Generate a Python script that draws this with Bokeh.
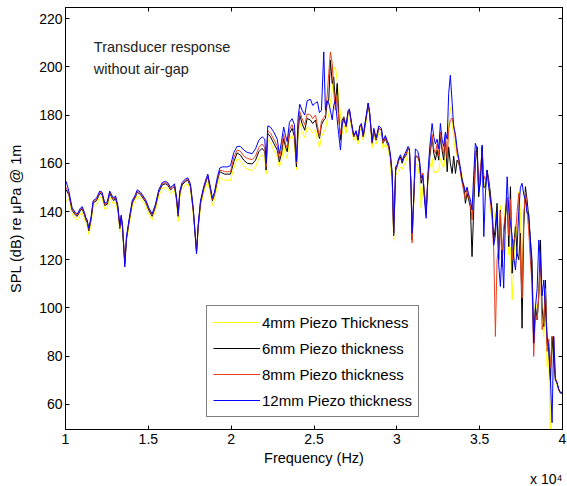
from bokeh.plotting import figure
from bokeh.models import Range1d, LinearAxis, Label, Legend, LegendItem, FixedTicker, Title
from bokeh.embed import file_html
from bokeh.resources import INLINE

# Frequency in units of 10^4 Hz
freq = [
    1.004, 1.020, 1.040, 1.060, 1.071, 1.091, 1.101, 1.115, 1.123, 1.131,
    1.141, 1.155, 1.167, 1.187, 1.207, 1.221, 1.237, 1.252, 1.267, 1.282,
    1.291, 1.302, 1.316, 1.328, 1.336, 1.344, 1.358, 1.368, 1.382, 1.403,
    1.422, 1.433, 1.453, 1.483, 1.503, 1.523, 1.543, 1.563, 1.584, 1.603,
    1.617, 1.634, 1.644, 1.658, 1.670, 1.680, 1.690, 1.704, 1.724, 1.738,
    1.754, 1.771, 1.791, 1.801, 1.815, 1.835, 1.851, 1.859, 1.875, 1.887,
    1.899, 1.916, 1.931, 1.946, 1.960, 1.976, 1.996,
    2.016, 2.036, 2.056, 2.076, 2.097, 2.127, 2.147, 2.167, 2.187, 2.203,
    2.211, 2.221, 2.237, 2.257, 2.278, 2.291, 2.304, 2.317, 2.328, 2.338,
    2.352, 2.368, 2.382, 2.394, 2.404, 2.414, 2.428, 2.444, 2.459, 2.479,
    2.492, 2.509, 2.521, 2.533, 2.545, 2.559, 2.569, 2.579, 2.589, 2.599,
    2.610, 2.619, 2.629, 2.640, 2.649, 2.660, 2.670, 2.680, 2.694, 2.706,
    2.714, 2.726, 2.740, 2.754, 2.766, 2.776, 2.786, 2.797, 2.810, 2.827,
    2.836, 2.851, 2.861, 2.875, 2.891, 2.907, 2.917, 2.931, 2.941, 2.951,
    2.961, 2.972, 2.981, 2.993,
    3.002, 3.011, 3.022, 3.032, 3.042, 3.056, 3.068, 3.076, 3.086, 3.092,
    3.102, 3.112, 3.126, 3.136, 3.147, 3.156, 3.167, 3.177, 3.187, 3.199,
    3.213, 3.223, 3.233, 3.243, 3.253, 3.263, 3.273, 3.283, 3.293, 3.304,
    3.313, 3.323, 3.334, 3.343, 3.354, 3.364, 3.374, 3.384, 3.394, 3.404,
    3.414, 3.424, 3.434, 3.444, 3.454, 3.464, 3.474, 3.485, 3.494, 3.505,
    3.515, 3.525, 3.535, 3.545, 3.555, 3.565, 3.575, 3.585, 3.595, 3.605,
    3.615, 3.625, 3.635, 3.645, 3.655, 3.666, 3.676, 3.686, 3.696, 3.706,
    3.716, 3.726, 3.736, 3.746, 3.756, 3.766, 3.776, 3.786, 3.796, 3.806,
    3.816, 3.826, 3.837, 3.847, 3.857, 3.867, 3.877, 3.887, 3.897, 3.907,
    3.917, 3.927, 3.937, 3.947, 3.957, 3.967, 3.977, 3.987, 3.997,
]

spl_4mm = [
    144, 145.5, 139, 137, 136.5, 139, 139.5, 137, 135, 134,
    130.5, 135.5, 142, 143, 146, 145.5, 141, 141.5, 146, 144,
    143, 144, 140, 131.5, 136, 132, 118, 127, 133.5, 142,
    144.5, 146.5, 145.5, 142.5, 139, 136.5, 140.5, 146.5, 149.5, 150,
    149.5, 147.5, 148, 149, 143.5, 136, 146, 149.5, 151, 151.5,
    149, 139, 123.5, 132, 142, 148, 151, 152.5, 147, 142.5,
    145, 150.5, 154, 153.5, 153, 153, 153,
    158, 162, 161, 159, 157.5, 157, 158.5, 162, 163.5, 162,
    155.5, 170, 168.5, 165.5, 162.5, 158.5, 161, 167.5, 163.5, 162,
    170, 171.5, 168, 157.2, 171, 177, 173, 170.5, 175, 174,
    172.5, 174, 169.5, 166.5, 171, 173, 174, 178, 180, 185,
    190, 198.6, 200, 194.5, 186, 180.7, 172, 176, 172.5, 179.5,
    180, 174.5, 169.5, 171.5, 168, 173.5, 174.5, 169.5, 175, 183.5,
    179.5, 166.5, 172, 168, 172.5, 172, 166, 168, 166.5, 164.5,
    160, 150, 128, 155,
    156, 157, 158.5, 157.5, 159, 161, 164.5, 164, 150, 129,
    143, 160, 159, 155, 141.5, 150, 148, 140, 152, 158,
    162, 156, 157, 156, 157, 162, 160, 158, 164, 163,
    176, 183.4, 178, 170, 165, 163, 162, 158, 155, 151,
    147, 145, 146, 141, 137, 150, 166, 164, 150, 156,
    167.6, 150, 152, 155, 150, 140, 138, 137, 140, 136,
    128, 142.5, 120, 128, 143.5, 140, 122, 125, 103.4, 118,
    135, 130, 148.2, 140, 110, 140, 145, 140, 136, 130,
    110, 92, 102, 100, 104, 118, 95, 88, 100, 75.7,
    80, 45, 85, 80, 70, 68, 66, 65, 64.5,
]

spl_6mm = [
    149, 147, 140.5, 138.5, 138, 140.5, 141, 138.5, 136.5, 135.5,
    132, 137, 143.5, 144.5, 147.5, 147, 142.5, 143, 147.5, 145.5,
    144.5, 145.5, 141.5, 133, 137.5, 133.5, 118.5, 128.5, 135, 143.5,
    146, 148, 147, 144, 140.5, 138, 142, 148, 151, 151.5,
    151, 149, 149.5, 150.5, 145, 138, 147.5, 151, 152.5, 153,
    150.5, 140.5, 123.5, 133.5, 143.5, 149.5, 153, 154.5, 149, 144.5,
    147, 152.5, 156.5, 156, 155.5, 155.5, 155.5,
    160.6, 164.3, 163.4, 161.3, 160, 159.7, 161.3, 164.8, 166.2, 164.8,
    157.2, 172.4, 171, 168.3, 165.5, 160.6, 164.1, 170.3, 166.8, 164.8,
    172.4, 174.5, 171, 158.5, 173.7, 180, 176.5, 173.7, 178.6, 177.9,
    176.5, 177.9, 173.7, 170.3, 175.9, 177.9, 178.6, 184.8, 186.2, 202.7,
    193.1, 195.8, 184.8, 193.1, 180.7, 169.6, 177.9, 179.3, 175.1, 181.3,
    182, 176.5, 171, 173.1, 169.6, 175.1, 175.9, 171, 176.5, 184.8,
    180.7, 168.3, 173.7, 169.6, 174.5, 173.7, 168.3, 170.3, 168.3, 166.8,
    162.7, 154.4, 130, 157.2,
    158.6, 161.3, 162.7, 160, 162, 163.4, 166.2, 165.5, 150.3, 128.2,
    144.8, 162.7, 162.7, 160.6, 151.7, 155.8, 147.5, 139.3, 153, 162.7,
    171, 164.1, 161.3, 165.5, 161.3, 171, 165.5, 161.3, 171, 156.5,
    166.8, 160, 155.8, 163, 155.8, 161.3, 160, 157.2, 153, 150.3,
    143.4, 147.5, 144.8, 142, 121.3, 140.6, 160, 166.8, 146.1, 154.4,
    166.8, 150, 150.3, 157.2, 153, 147.5, 139.3, 128.2, 133.7, 143.4,
    120, 140.6, 117.1, 131, 137.9, 144.8, 125.4, 150.3, 114.4, 125.4,
    133.7, 122.7, 120, 131, 91.6, 133, 150.3, 144.8, 137.9, 128.2,
    120, 85.4, 100.6, 95, 106, 128.2, 100, 92.3, 111.6, 85.4,
    82.6, 70, 88.2, 78.5, 70.3, 68.9, 66.1, 64.7, 64.7,
]

spl_8mm = [
    150, 147.5, 141, 139, 138.5, 141, 141.5, 139, 137, 136,
    132.5, 137.5, 144, 145, 148, 147.5, 143, 143.5, 148, 146,
    145, 146, 142, 133.5, 138, 134, 118.5, 129, 135.5, 144,
    146.5, 148.5, 147.5, 144.5, 141, 138.5, 142.5, 148.5, 151.5, 152,
    151.5, 149.5, 150, 151, 145.5, 138.5, 148, 151.5, 153, 153.5,
    151, 141, 123, 134, 144, 150, 153.5, 155, 149.5, 145,
    147.5, 153, 157, 157, 156.5, 156.5, 156.5,
    162.5, 165.5, 165, 163, 162, 161.5, 163, 166.5, 168, 166.5,
    158.5, 173.5, 172.5, 170, 167, 162, 166, 172, 168, 166.5,
    174, 176, 172.5, 160, 175.5, 181.5, 178.5, 176, 180.5, 180,
    178.5, 180, 175.5, 171, 177.5, 179, 180, 187.5, 197.2, 206.2,
    201.4, 190.3, 182, 188, 178, 172, 176, 179, 175, 181.5,
    182, 176.5, 171, 173, 170, 175, 176, 171, 177, 184.5,
    180.5, 168.5, 173.5, 170, 174.5, 174, 168.5, 171, 169, 167,
    163, 155, 130.5, 158,
    159, 161, 162, 161, 162.5, 164, 166, 165.5, 150, 127,
    145, 163, 163, 161, 153, 156, 146, 138.5, 153, 164,
    172, 166, 164, 168, 163, 173, 167, 164, 172, 162,
    174, 178, 178.7, 176, 170, 164, 161, 156, 152, 148,
    145, 150, 146, 143, 136.5, 148, 165, 164, 150, 158,
    165, 155, 153, 156, 152, 144, 137, 124, 88.2, 120,
    125, 140, 118, 133, 139, 146, 130, 145, 120, 128,
    130, 140, 147.6, 120, 104.1, 138, 148, 141, 132, 120,
    110, 79.9, 98, 95, 105, 120, 91, 95, 108, 82,
    87.1, 75, 88, 88, 71, 69, 66, 65, 65,
]

spl_12mm = [
    152.5, 148.5, 141.5, 139.5, 139, 141.5, 142, 139.5, 137.5, 136.5,
    133, 138, 144.5, 145.5, 148.5, 148, 143.5, 144, 148.5, 146.5,
    145.5, 146.5, 142.5, 134, 138.5, 134.5, 117, 129.5, 136, 144.5,
    147, 149, 148, 145, 141.5, 139, 143, 149, 152, 152.5,
    152, 150, 150.5, 151.5, 146, 139, 148.5, 152, 153.5, 154,
    151.5, 141.5, 122.5, 134.5, 144.5, 150.5, 154, 155.5, 150, 145.5,
    148, 154, 158, 158.5, 158.5, 158.5, 159,
    164.5, 167, 167, 165.5, 164.5, 164, 166, 169.5, 171, 170,
    160, 175.5, 175, 173, 170, 164, 169, 175, 171.5, 169,
    177, 178.5, 176, 160.6, 179, 184.5, 182, 180, 186, 186.5,
    184, 185, 185.5, 181, 182, 206.2, 182, 186, 185, 182,
    178, 184, 186.2, 178, 172, 165.5, 176, 178.5, 175.5, 182,
    182.5, 177, 171.5, 173.5, 170, 175.5, 176.5, 171.5, 177.5, 185,
    181, 169, 174.5, 170.5, 175.5, 174.5, 169.5, 171.5, 169.5, 168,
    164, 156, 131, 158.5,
    159.5, 162, 163.5, 161, 163, 165, 167, 166, 149, 131,
    146, 166, 165, 162, 154, 155, 145, 137.2, 155, 167,
    176.5, 171, 168, 170, 166, 176.5, 170, 167, 173, 170,
    189, 196.5, 185, 175.1, 172, 166, 162, 158, 153, 151,
    148, 150, 147, 145, 140.6, 155, 168.3, 166, 148, 152,
    167.6, 129.6, 148, 157.2, 150, 145, 141, 126, 130, 140,
    118, 108.9, 124, 108.2, 136, 154.4, 140, 135.2, 130, 121,
    115.8, 125, 140, 150, 151.7, 147, 145, 139.3, 139, 128,
    112, 85.4, 100.6, 108, 128.2, 120, 105, 111.6, 100, 88,
    84, 70, 52.4, 88.2, 70.3, 69, 66.5, 65, 64.7,
]

series_labels = ["4mm Piezo Thickness", "6mm Piezo thickness",
                 "8mm Piezo thickness", "12mm Piezo thickness"]
series_colors = ["#ffff00", "#000000", "#e8401c", "#0000ff"]

x_ticks = [1, 1.5, 2, 2.5, 3, 3.5, 4]
y_ticks = [60, 80, 100, 120, 140, 160, 180, 200, 220]

FONT = "Liberation Sans"

p = figure(width=567, height=486, output_backend="svg", toolbar_location=None,
           x_range=Range1d(1, 4), y_range=Range1d(49.6, 224.6),
           min_border_left=65, min_border_right=5, min_border_top=7,
           min_border_bottom=56)
p.xgrid.visible = False
p.ygrid.visible = False
p.outline_line_color = "black"
p.outline_line_width = 1
p.background_fill_color = "white"
p.border_fill_color = "white"

for ax, ticks in ((p.xaxis[0], x_ticks), (p.yaxis[0], y_ticks)):
    ax.ticker = FixedTicker(ticks=ticks)
    ax.major_label_overrides = {t: f"{t:g}" for t in ticks}
    ax.major_tick_in = 4
    ax.major_tick_out = 0
    ax.minor_tick_line_color = None
    ax.axis_line_color = "black"
    ax.major_tick_line_color = "black"
    ax.major_label_text_font = FONT
    ax.major_label_text_font_size = "14px"
    ax.major_label_text_color = "black"
    ax.axis_label_text_font = FONT
    ax.axis_label_text_font_size = "14.5px"
    ax.axis_label_text_font_style = "normal"
    ax.axis_label_text_color = "black"

p.xaxis.axis_label = "Frequency (Hz)"
p.xaxis.major_label_standoff = 4
p.xaxis.axis_label_standoff = 3
p.yaxis.axis_label = "SPL (dB) re μPa @ 1m"
p.yaxis.major_label_standoff = 3
p.yaxis.axis_label_standoff = 12

# Box ticks on top and right edges (no labels drawn)
for loc, ticks in (("above", x_ticks), ("right", y_ticks)):
    ax = LinearAxis(ticker=FixedTicker(ticks=ticks), major_label_text_font_size="0px",
                    major_label_text_color=None,
                    major_label_standoff=0, major_tick_in=4, major_tick_out=0,
                    minor_tick_line_color=None, axis_line_color="black",
                    major_tick_line_color="black")
    p.add_layout(ax, loc)

renderers = []
for ys, col in zip([spl_4mm, spl_6mm, spl_8mm, spl_12mm], series_colors):
    r = p.line(freq, ys, line_color=col, line_width=1)
    renderers.append(r)

legend = Legend(items=[LegendItem(label=lab, renderers=[r])
                       for lab, r in zip(series_labels, renderers)],
                location=(141, 12), border_line_color="black", border_line_width=1,
                background_fill_color="white", background_fill_alpha=1,
                label_text_font=FONT, label_text_font_size="15px",
                label_text_color="black",
                glyph_width=47, glyph_height=20, label_height=20,
                spacing=6, padding=6, margin=0, label_standoff=2)
p.add_layout(legend)

p.add_layout(Label(x=1.171, y=208.2, text="Transducer response", text_font=FONT,
                   text_font_size="14.5px", text_baseline="middle", text_color="#222222"))
p.add_layout(Label(x=1.171, y=199.3, text="without air-gap", text_font=FONT,
                   text_font_size="14.5px", text_baseline="middle", text_color="#222222"))

# Axis multiplier "x 10^4" below the right end of the x axis
p.add_layout(Title(text="x 10\u2074", align="right", text_font=FONT,
                   text_font_size="14px", text_font_style="normal",
                   text_color="black", standoff=0, offset=0), "below")

open("out.html", "w").write(file_html(p, INLINE))
